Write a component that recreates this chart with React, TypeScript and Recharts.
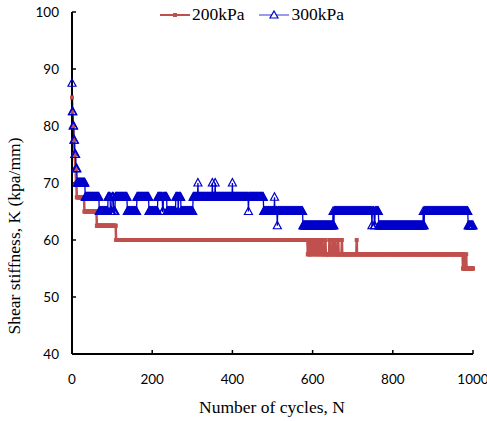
import React from "react";
import { LineChart, Line, XAxis, YAxis } from "recharts";

// step runs: value holds from each start cycle to the next
const runStarts200 = [0, 1, 2, 4, 6, 8, 10, 12, 31, 62, 110, 588, 592, 594, 598, 601, 603, 606, 609, 612, 615, 618, 621, 624, 630, 633, 642, 644, 650, 652, 656, 658, 664, 665, 673, 674, 710, 711, 975, 979, 980, 983, 984];
const runValues200 = [85, 82.5, 80, 77.5, 75, 72.5, 70, 67.5, 65, 62.5, 60, 57.5, 60, 57.5, 60, 57.5, 60, 57.5, 60, 57.5, 60, 57.5, 60, 57.5, 60, 57.5, 60, 57.5, 60, 57.5, 60, 57.5, 60, 57.5, 60, 57.5, 60, 57.5, 55, 57.5, 55, 57.5, 55];

const runStarts300 = [0, 1, 3, 5, 7, 10, 13, 33, 68, 90, 96, 100, 104, 108, 138, 162, 192, 214, 226, 228, 237, 259, 265, 266, 272, 302, 314, 315, 350, 351, 357, 358, 400, 401, 440, 441, 478, 505, 506, 512, 513, 576, 651, 652, 654, 748, 749, 754, 756, 765, 876, 877, 879, 988];
const runValues300 = [87.5, 82.5, 80, 77.5, 75, 72.5, 70, 67.5, 65, 67.5, 65, 67.5, 65, 67.5, 65, 67.5, 65, 67.5, 65, 67.5, 65, 67.5, 65, 67.5, 65, 67.5, 70, 67.5, 70, 67.5, 70, 67.5, 70, 67.5, 65, 67.5, 65, 67.5, 65, 62.5, 65, 62.5, 65, 62.5, 65, 62.5, 65, 62.5, 65, 62.5, 65, 62.5, 65, 62.5];

const lastCycle = 1000;
const xTicks = [0, 200, 400, 600, 800, 1000];
const yTicks = [40, 50, 60, 70, 80, 90, 100];

const RED = "#C0504D";
const BLUE = "#0000CC";

function valueAt(starts: number[], values: number[], n: number) {
  let v = values[0];
  for (let i = 0; i < starts.length; i++) {
    if (starts[i] <= n) v = values[i];
  }
  return v;
}

const data: { n: number; k200: number; k300: number }[] = [];
for (let n = 0; n <= lastCycle; n++) {
  data.push({
    n,
    k200: valueAt(runStarts200, runValues200, n),
    k300: valueAt(runStarts300, runValues300, n),
  });
}

const squareDot = (p: any) => {
  if (p.cx == null || p.cy == null) return <g key={p.index} />;
  return <rect key={p.index} x={p.cx - 2} y={p.cy - 2} width={4} height={4} fill={RED} />;
};

const triangleDot = (p: any) => {
  if (p.cx == null || p.cy == null) return <g key={p.index} />;
  const { cx, cy } = p;
  return (
    <path
      key={p.index}
      d={`M${cx},${cy - 4.5}L${cx + 4},${cy + 3}L${cx - 4},${cy + 3}Z`}
      fill="none"
      stroke={BLUE}
      strokeWidth={1.2}
    />
  );
};

const tickStyle = { fontFamily: "Lato", fontSize: 13.5, fill: "#000" };
const serif = "'Liberation Serif', 'Times New Roman', serif";

export default function App() {
  return (
    <div style={{ position: "absolute", left: 0, top: 0, width: 487, height: 421, background: "#fff" }}>
      <LineChart width={487} height={421} data={data} margin={{ top: 12, right: 14, left: 0, bottom: 0 }}>
        <XAxis
          dataKey="n"
          type="number"
          domain={[0, 1000]}
          ticks={xTicks}
          height={67}
          tick={tickStyle}
          tickSize={-4}
          tickMargin={24}
          axisLine={{ stroke: "#000", strokeWidth: 2 }}
          tickLine={{ stroke: "#000", strokeWidth: 1.5 }}
          interval={0}
        />
        <YAxis
          type="number"
          domain={[40, 100]}
          ticks={yTicks}
          width={72}
          tick={tickStyle}
          tickSize={-4}
          tickMargin={17}
          axisLine={{ stroke: "#000", strokeWidth: 2 }}
          tickLine={{ stroke: "#000", strokeWidth: 1.5 }}
          interval={0}
        />
        <Line
          dataKey="k200"
          type="linear"
          stroke={RED}
          strokeWidth={2.5}
          dot={squareDot}
          isAnimationActive={false}
        />
        <Line
          dataKey="k300"
          type="linear"
          stroke={BLUE}
          strokeWidth={1.3}
          dot={triangleDot}
          isAnimationActive={false}
        />
      </LineChart>

      {/* legend */}
      <div style={{ position: "absolute", left: 160, top: 4, display: "flex", alignItems: "center", fontFamily: serif, fontSize: 17.5 }}>
        <svg width={32} height={20}>
          <line x1={0} y1={10} x2={30} y2={10} stroke={RED} strokeWidth={2} />
          <rect x={13} y={8} width={4} height={4} fill={RED} />
        </svg>
        <span style={{ marginRight: 14 }}>200kPa</span>
        <svg width={33} height={20}>
          <line x1={0} y1={10} x2={30} y2={10} stroke={BLUE} strokeWidth={1.3} opacity={0.6} />
          <path d="M15,6L19,13L11,13Z" fill="#fff" stroke={BLUE} strokeWidth={1.2} />
        </svg>
        <span>300kPa</span>
      </div>

      {/* axis titles */}
      <div
        style={{
          position: "absolute",
          left: 272,
          top: 407,
          transform: "translate(-50%, -50%)",
          whiteSpace: "nowrap",
          fontFamily: serif,
          fontSize: 17.5,
        }}
      >
        Number of cycles, N
      </div>
      <div
        style={{
          position: "absolute",
          left: 14,
          top: 236,
          transform: "translate(-50%, -50%) rotate(-90deg)",
          whiteSpace: "nowrap",
          fontFamily: serif,
          fontSize: 17.5,
        }}
      >
        Shear stiffness, K (kpa/mm)
      </div>
    </div>
  );
}
